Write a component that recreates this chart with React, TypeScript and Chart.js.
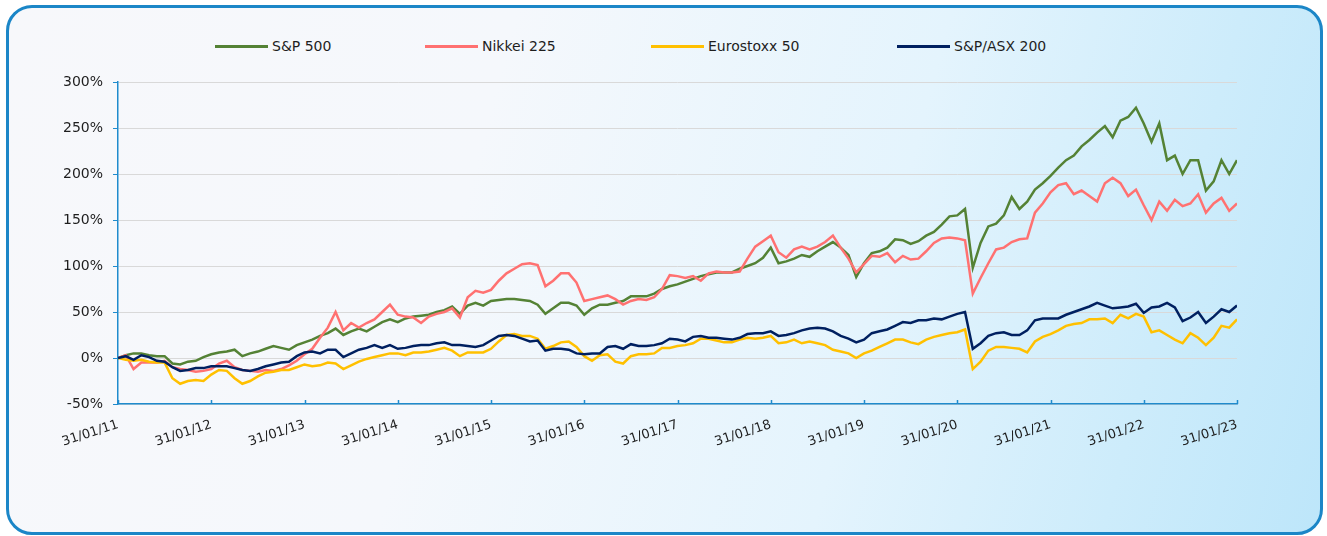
import React, { useEffect, useRef } from 'react';
import { Chart, registerables } from 'chart.js';

Chart.register(...registerables);

// ---- data (monthly, index 0 = 31/01/11 ... 144 = 31/01/23), cumulative % return ----
const seriesNames = ['S&P 500', 'Nikkei 225', 'Eurostoxx 50', 'S&P/ASX 200'];
const seriesColors = ['#548235', '#ff7171', '#ffc000', '#002060'];
const yearTickLabels = [
  '31/01/11', '31/01/12', '31/01/13', '31/01/14', '31/01/15', '31/01/16', '31/01/17',
  '31/01/18', '31/01/19', '31/01/20', '31/01/21', '31/01/22', '31/01/23',
];
const yTickValues = [-50, 0, 50, 100, 150, 200, 250, 300];

const spx = [
  0, 3, 5, 5, 3, 2, 2, -6, -7, -4, -3, 1, 4,
  6, 7, 9, 2, 5, 7, 10, 13, 11, 9, 14, 17,
  20, 24, 27, 32, 25, 29, 32, 29, 34, 39, 42, 39,
  43, 45, 46, 47, 50, 52, 56, 48, 57, 60, 57, 62,
  63, 64, 64, 63, 62, 58, 48, 54, 60, 60, 57, 47,
  54, 58, 58, 60, 62, 67, 67, 67, 70, 75, 78, 80,
  83, 86, 89, 91, 93, 93, 93, 97, 100, 103, 109, 120,
  103, 105, 108, 112, 110, 116, 121, 126, 120, 112, 88, 103,
  114, 116, 120, 129, 128, 124, 127, 133, 137, 145, 154, 155,
  162, 98, 125, 143, 146, 155, 175, 162, 170, 183, 190, 198,
  207, 215, 220, 230, 237, 245, 252, 240, 258, 262, 272, 255,
  235, 255, 215, 220, 200, 215, 215, 182, 192, 215, 200, 215,
];
const nikkei = [
  0, 3, -12, -5, -5, -5, -3, -10, -12, -13, -15, -14, -12,
  -6, -3, -10, -13, -14, -15, -13, -14, -12, -8, -3, 4,
  10, 22, 33, 50, 30, 38, 33, 38, 42, 50, 58, 47,
  45, 44, 38, 45, 48, 50, 54, 44, 66, 73, 71, 74,
  84, 92, 97, 102, 103, 101, 78, 84, 92, 92, 82, 62,
  64, 66, 68, 64, 58, 62, 64, 63, 66, 75, 90, 89,
  87, 89, 84, 92, 94, 93, 93, 94, 108, 121, 127, 133,
  115, 109, 118, 121, 118, 121, 126, 133, 120, 108, 93, 102,
  111, 110, 114, 104, 111, 107, 108, 116, 125, 130, 131, 130,
  128, 70, 87, 103, 118, 120, 126, 129, 130, 158, 168, 180,
  188, 190, 178, 182, 176, 170, 190, 196, 190, 176, 183, 166,
  150, 170, 160, 172, 165, 168, 178, 158, 168, 174, 160, 168,
];
const stoxx = [
  0, -2, -3, -2, -4, -5, -5, -22, -28, -25, -24, -25, -18,
  -13, -14, -22, -28, -25, -20, -16, -15, -13, -13, -10, -7,
  -9, -8, -5, -6, -12, -8, -4, -1, 1, 3, 5, 5,
  3, 6, 6, 7, 9, 11, 8, 2, 6, 6, 6, 10,
  18, 25, 26, 24, 24, 21, 10, 13, 17, 18, 12, 2,
  -3, 3, 4, -4, -6, 2, 4, 4, 5, 11, 11, 13,
  14, 16, 21, 21, 19, 17, 17, 20, 22, 21, 22, 24,
  16, 17, 20, 16, 18, 16, 14, 9, 7, 5, 0, 5,
  8, 12, 16, 20, 20, 17, 15, 20, 23, 25, 27, 28,
  31, -12, -4, 8, 12, 12, 11, 10, 6, 18, 23, 26,
  30, 35, 37, 38, 42, 42, 43, 38, 47, 43, 48, 45,
  28, 30, 25, 20, 16, 27, 22, 14, 22, 35, 33, 42,
];
const asx = [
  0, 2, -2, 3, 1, -3, -4, -10, -14, -13, -11, -11, -9,
  -9, -9, -11, -13, -14, -12, -9, -7, -5, -4, 2, 6,
  7, 5, 9, 9, 1, 5, 9, 11, 14, 11, 14, 10,
  11, 13, 14, 14, 16, 17, 14, 14, 13, 12, 14, 19,
  24, 25, 24, 21, 18, 19, 8, 10, 10, 9, 5, 4,
  5, 5, 12, 13, 10, 15, 13, 13, 14, 16, 21, 20,
  18, 23, 24, 22, 22, 21, 20, 22, 26, 27, 27, 29,
  24, 25, 27, 30, 32, 33, 32, 29, 24, 21, 17, 20,
  27, 29, 31, 35, 39, 38, 41, 41, 43, 42, 45, 48,
  50, 10, 16, 24, 27, 28, 25, 25, 30, 41, 43, 43,
  43, 47, 50, 53, 56, 60, 57, 54, 55, 56, 59, 49,
  55, 56, 60, 55, 40, 44, 50, 38, 45, 53, 50, 57,
];
const seriesValues = [spx, nikkei, stoxx, asx];

// ---- styles ----
const FONT = "'DejaVu Sans', sans-serif";
const TEXT = '#1e1e1e';
const AXIS_BLUE = '#1f8bcd';
const legendLefts = [215, 425, 651, 897];

const xTickMarks = {
  id: 'xTickMarks',
  afterDraw(chart: any) {
    const sx = chart.scales.x;
    const { ctx, chartArea } = chart;
    ctx.save();
    ctx.strokeStyle = AXIS_BLUE;
    ctx.lineWidth = 1.5;
    sx.ticks.forEach((t: any) => {
      const px = Math.round(sx.getPixelForValue(t.value)) + 0.5;
      ctx.beginPath();
      ctx.moveTo(px, chartArea.bottom);
      ctx.lineTo(px, chartArea.bottom - 4);
      ctx.stroke();
    });
    ctx.restore();
  },
};

export default function App() {
  const canvasRef = useRef<HTMLCanvasElement | null>(null);

  useEffect(() => {
    if (!canvasRef.current) return;
    const datasets = seriesNames.map((name, k) => ({
      label: name,
      data: seriesValues[k].map((v, i) => ({ x: i, y: v })),
      borderColor: seriesColors[k],
      backgroundColor: seriesColors[k],
      borderWidth: 2.5,
      pointRadius: 0,
      tension: 0,
      order: seriesNames.length - k,
    }));
    const chart = new Chart(canvasRef.current, {
      type: 'line',
      data: { datasets },
      plugins: [xTickMarks],
      options: {
        animation: false,
        responsive: true,
        maintainAspectRatio: false,
        layout: { padding: { left: 0, right: 90, top: 82, bottom: 82 } },
        plugins: { legend: { display: false }, tooltip: { enabled: false } },
        scales: {
          x: {
            type: 'linear',
            min: 0,
            max: 144,
            afterBuildTicks: (scale: any) => {
              scale.ticks = yearTickLabels.map((_, i) => ({ value: i * 12 }));
            },
            afterFit: (scale: any) => {
              scale.height = 50;
            },
            ticks: {
              autoSkip: false,
              minRotation: 18,
              maxRotation: 18,
              padding: 13,
              color: TEXT,
              font: { family: FONT, size: 13 },
              callback: (v: any) => yearTickLabels[Math.round(Number(v) / 12)],
            },
            grid: { drawOnChartArea: false, drawTicks: false },
            border: { color: AXIS_BLUE, width: 1.5 },
          },
          y: {
            min: -50,
            max: 300,
            afterBuildTicks: (scale: any) => {
              scale.ticks = yTickValues.map((v) => ({ value: v }));
            },
            afterFit: (scale: any) => {
              scale.width = 118;
            },
            ticks: {
              padding: 10,
              color: TEXT,
              font: { family: FONT, size: 14 },
              callback: (v: any) => `${v}%`,
            },
            grid: { color: '#d9d9d9', lineWidth: 1, tickColor: AXIS_BLUE, tickLength: 5 },
            border: { color: AXIS_BLUE, width: 1.5 },
          },
        },
      } as any,
    });
    return () => chart.destroy();
  }, []);

  return (
    <div style={{ position: 'relative', width: 1327, height: 536, overflow: 'hidden', fontFamily: FONT }}>
      <style>{'body{margin:0;}'}</style>
      <div
        style={{
          position: 'absolute',
          left: 6,
          top: 5,
          width: 1317,
          height: 530,
          boxSizing: 'border-box',
          border: '3px solid #1b86c7',
          borderRadius: 26,
          background:
            'linear-gradient(105deg, #f7f8fb 0%, #f5f8fc 35%, #e4f4fd 65%, #cdecfb 85%, #bde6fa 100%)',
        }}
      />
      {seriesNames.map((name, k) => (
        <div
          key={name}
          style={{
            position: 'absolute',
            left: legendLefts[k],
            top: 37,
            height: 18,
            display: 'flex',
            alignItems: 'center',
            whiteSpace: 'nowrap',
            fontSize: 14,
            color: TEXT,
          }}
        >
          <span style={{ display: 'inline-block', width: 53, height: 3, background: seriesColors[k], marginRight: 4 }} />
          <span>{name}</span>
        </div>
      ))}
      <div style={{ position: 'absolute', left: 0, top: 0, width: 1327, height: 536 }}>
        <canvas ref={canvasRef} />
      </div>
    </div>
  );
}
